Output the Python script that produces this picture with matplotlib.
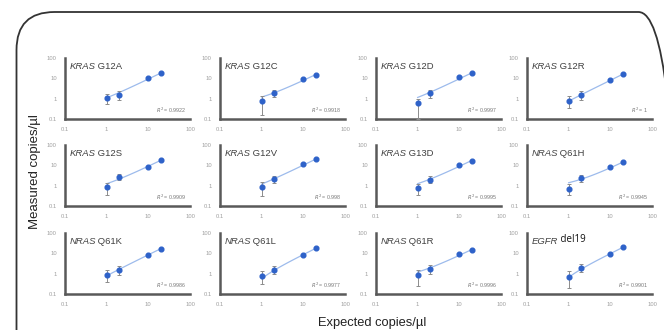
import numpy as np
import matplotlib
matplotlib.use("Agg")
import matplotlib.pyplot as plt
from matplotlib.patches import FancyBboxPatch

plt.rcParams["font.family"] = ["Liberation Sans", "DejaVu Sans"]

# --- 数据 ---
genes = ["KRAS", "KRAS", "KRAS", "KRAS",
         "KRAS", "KRAS", "KRAS", "NRAS",
         "NRAS", "NRAS", "NRAS", "EGFR"]
mutations = ["G12A", "G12C", "G12D", "G12R",
             "G12S", "G12V", "G13D", "Q61H",
             "Q61K", "Q61L", "Q61R", "del19"]
r2_labels = ["0.9922", "0.9918", "0.9997", "1",
             "0.9909", "0.998", "0.9995", "0.9945",
             "0.9986", "0.9977", "0.9996", "0.9901"]
expected = [1, 2, 10, 20]
measured = [
    [1.1, 1.6, 10, 18],
    [0.8, 1.8, 9, 15],
    [0.6, 1.8, 11, 18],
    [0.8, 1.5, 8, 16],
    [0.9, 2.8, 8.5, 18],
    [0.9, 2.1, 11, 20],
    [0.8, 2.0, 10, 17],
    [0.7, 2.3, 8.5, 14],
    [0.9, 1.5, 8.5, 17],
    [0.8, 1.6, 8, 18],
    [0.9, 1.7, 9, 15],
    [0.7, 2.0, 9, 20],
]
err_low = [
    [0.55, 0.7, 1.0, 1.0],
    [0.65, 0.6, 1.0, 1.0],
    [0.5, 0.7, 1.0, 1.0],
    [0.45, 0.6, 1.0, 1.0],
    [0.55, 0.8, 1.0, 1.0],
    [0.6, 0.8, 1.0, 1.0],
    [0.45, 0.7, 1.0, 1.0],
    [0.35, 0.8, 1.0, 1.0],
    [0.5, 0.6, 1.0, 1.0],
    [0.5, 0.6, 1.0, 1.0],
    [0.65, 0.7, 1.0, 1.0],
    [0.5, 0.8, 1.0, 1.0],
]
err_high = [
    [0.6, 0.8, 1.0, 1.0],
    [0.5, 0.8, 1.0, 1.0],
    [0.4, 0.9, 1.0, 1.0],
    [0.5, 0.8, 1.0, 1.0],
    [0.5, 0.9, 1.0, 1.0],
    [0.6, 0.9, 1.0, 1.0],
    [0.4, 0.9, 1.0, 1.0],
    [0.5, 0.9, 1.0, 1.0],
    [0.6, 0.8, 1.0, 1.0],
    [0.6, 0.8, 1.0, 1.0],
    [0.6, 0.9, 1.0, 1.0],
    [0.6, 0.9, 1.0, 1.0],
]

W, H = 664, 330
C_PT = "#2e62c9"
C_FIT = "#9dbbec"
C_ERR = "#8c8c8c"
C_SPINE = "#595959"
C_TICK = "#a0a0a0"

fig = plt.figure(figsize=(W / 100, H / 100), dpi=100)

# 圆角外框（英寸坐标，圆角不变形）
box = FancyBboxPatch((0.165, -0.5), 6.6, 3.68,
                     boxstyle="round,pad=0,rounding_size=0.38",
                     transform=fig.dpi_scale_trans, fill=False,
                     ec="#333333", lw=1.3, clip_on=False)
fig.patches.append(box)

col_left = [65, 220, 376, 527]
row_top = [58, 145, 233]
aw, ah = 125, 61

for i in range(12):
    r, c = divmod(i, 4)
    ax = fig.add_axes([col_left[c] / W, 1 - (row_top[r] + ah) / H, aw / W, ah / H])
    ax.set_xscale("log")
    ax.set_yscale("log")
    ax.set_xlim(0.1, 100)
    ax.set_ylim(0.1, 100)
    ax.set_xticks([0.1, 1, 10, 100])
    ax.set_xticklabels(["0.1", "1", "10", "100"])
    ax.set_yticks([0.1, 1, 10, 100])
    ax.set_yticklabels(["0.1", "1", "10", "100"])
    ax.minorticks_off()
    ax.tick_params(length=0, labelsize=4.2, colors=C_TICK, pad=6)
    for s in ("top", "right"):
        ax.spines[s].set_visible(False)
    for s in ("left", "bottom"):
        ax.spines[s].set_color(C_SPINE)
        ax.spines[s].set_linewidth(1.8)
    ax.patch.set_alpha(0)

    x = np.array(expected, float)
    y = np.array(measured[i], float)
    # 线性趋势线（线性空间拟合）
    k, b = np.polyfit(x, y, 1)
    xf = np.linspace(1, 20, 50)
    ax.plot(xf, k * xf + b, color=C_FIT, lw=0.9, zorder=2)
    ax.errorbar(x, y, yerr=[err_low[i], err_high[i]], fmt="none",
                ecolor=C_ERR, elinewidth=0.7, capsize=1.6, capthick=0.7, zorder=3)
    ax.plot(x, y, "o", color=C_PT, ms=3.4, zorder=4)

    ax.text(0.04, 0.93, genes[i], transform=ax.transAxes, fontsize=6.8,
            style="italic", color="#404040", ha="left", va="top")
    if mutations[i] == "del19":
        ax.text(0.25, 0.98, " " + mutations[i], transform=ax.transAxes,
                fontsize=7, color="#111111", ha="left", va="top",
                family=["Open Sans", "DejaVu Sans"])
    else:
        ax.text(0.24, 0.93, " " + mutations[i], transform=ax.transAxes,
                fontsize=6.8, color="#404040", ha="left", va="top")
    ax.text(0.97, 0.06, r"$R^2$ = " + r2_labels[i], transform=ax.transAxes,
            fontsize=3.8, color="#777777", ha="right", va="bottom")

fig.text(35 / W, 1 - 172 / H, "Measured copies/µl", rotation=90,
         ha="center", va="center", fontsize=9.5, color="#222222")
fig.text(372 / W, 1 - 323 / H, "Expected copies/µl",
         ha="center", va="center", fontsize=9.3, color="#222222")

fig.savefig("out.png", dpi=100)
